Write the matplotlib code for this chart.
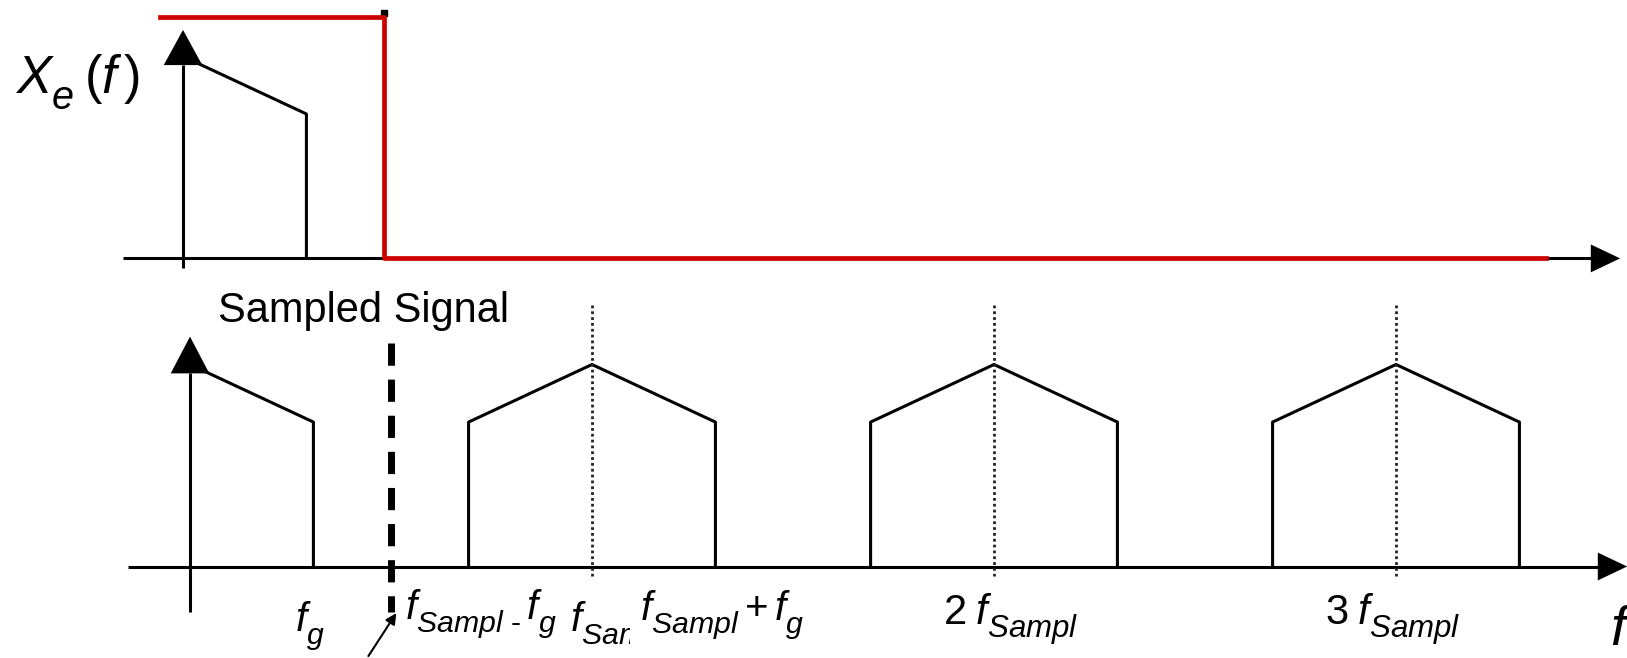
import matplotlib.pyplot as plt
import matplotlib._mathtext as mathtext_internal

plt.rcParams['font.family'] = 'Liberation Sans'
plt.rcParams['mathtext.fontset'] = 'custom'
plt.rcParams['mathtext.rm'] = 'Liberation Sans'
plt.rcParams['mathtext.it'] = 'Liberation Sans:italic'
plt.rcParams['mathtext.sf'] = 'Liberation Sans'
# subscripts sit lower and are a bit larger in the original drawing
mathtext_internal.FontConstantsBase.sub1 = 0.6
mathtext_internal.SHRINK_FACTOR = 0.75

# spectrum data (frequency in units of f_Sampl, height normalised to peak)
fs = 1.0
fg = 0.307
peak = 1.0
edge = 0.715
replicas = [1, 2, 3]

# anti-aliasing filter (red)
filt_f = [-0.057, 0.5, 0.5, 3.39]
filt_h = [1.197, 1.197, 0.0, 0.0]
cutoff = 0.5

# labels under the sampled spectrum: (text, left x, baseline y, size)
labels = [(r'$f_g$', 0.261, -0.324, 29),
          (r'$f_{Sampl\ \text{-}}\,f_g$', 0.535, -0.265, 29),
          (r'$f_{Sampl}$', 0.945, -0.324, 29),
          (r'$f_{Sampl}+f_g$', 1.119, -0.27, 29),
          (r'$2\;f_{Sampl}$', 1.873, -0.29, 30),
          (r'$3\;f_{Sampl}$', 2.823, -0.29, 30)]

W, H = 1627, 658
U, V = 402.0, 202.0   # pixels per unit

fig = plt.figure(figsize=(W / 100, H / 100), dpi=100)


def panel(x0, yb):
    ax = fig.add_axes([0, 0, 1, 1])
    ax.set_xlim(-x0 / U, (W - x0) / U)
    ax.set_ylim(-(H - yb) / V, yb / V)
    ax.axis('off')
    ax.patch.set_alpha(0)
    return ax


def draw_axes(ax, x_left, y_bottom, y_tip, y_base):
    # frequency axis with arrow
    ax.plot([x_left, 3.51], [0, 0], color='k', lw=2.2, solid_capstyle='butt')
    ax.fill([3.502, 3.575, 3.502], [-0.069, 0, 0.069], color='k', lw=0)
    # amplitude axis with arrow
    ax.plot([0, 0], [y_bottom, y_base], color='k', lw=2.2, solid_capstyle='butt')
    ax.fill([-0.048, 0, 0.048], [y_base, y_tip, y_base], color='k', lw=0)


def baseband(ax):
    ax.plot([0, fg, fg], [peak, edge, 0], color='k', lw=2.2)


top = panel(183, 258.4)
bot = panel(190, 566.5)

# ---- top: original spectrum and filter ----
draw_axes(top, -0.15, -0.048, 1.131, 0.957)
baseband(top)
top.plot(filt_f, filt_h, color='#cc0000', lw=3.4, zorder=3)
top.plot([cutoff], [1.213], 's', color='k', ms=4)
top.text(-0.418, 0.819, r'$X_e\:(f\,)$', fontsize=38, ha='left', va='baseline')

# ---- bottom: sampled spectrum ----
draw_axes(bot, -0.155, -0.225, 1.138, 0.956)
baseband(bot)
for k in replicas:
    c = k * fs
    bot.plot([c - fg, c - fg, c, c + fg, c + fg], [0, edge, peak, edge, 0],
             color='k', lw=2.2)
    bot.plot([c, c], [1.295, -0.047], color='#222222', lw=2,
             linestyle=(0, (1, 1.1)))

bot.plot([cutoff, cutoff], [1.108, -0.225], color='k', lw=5,
         linestyle=(0, (3.2, 2.0)))
bot.annotate('', xy=(0.517, -0.219), xytext=(0.44, -0.455),
             arrowprops=dict(arrowstyle='-|>', lw=1.5, color='k',
                             mutation_scale=16))
bot.text(0.07, 1.21, 'Sampled Signal', fontsize=30, ha='left', va='baseline')

for i, (txt, x, y, size) in enumerate(labels):
    kw = {}
    if '+' in txt:
        kw['bbox'] = dict(boxstyle='square,pad=0.25', fc='white', ec='none')
    bot.text(x, y, txt, fontsize=size, ha='left', va='baseline', zorder=5 + i, **kw)

bot.text(3.532, -0.39, r'$f$', fontsize=40, ha='left', va='baseline')

fig.savefig('out.png', dpi=100)
